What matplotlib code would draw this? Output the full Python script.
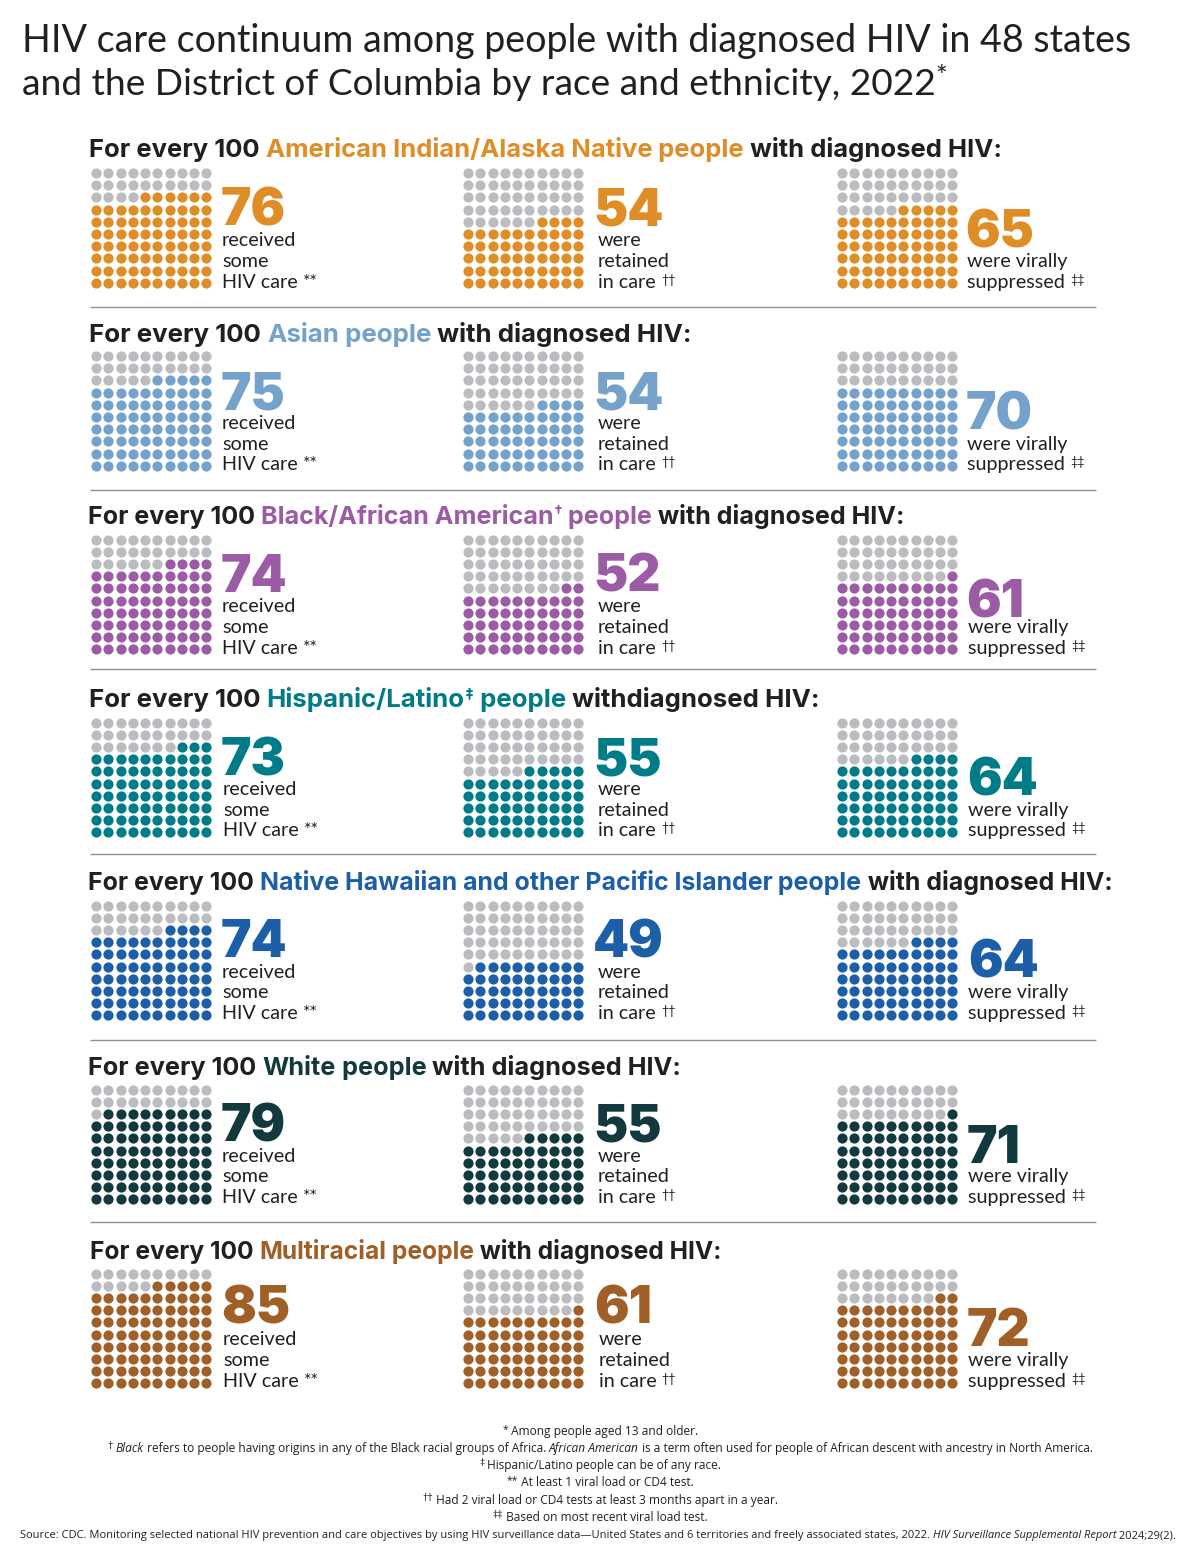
import matplotlib
matplotlib.use("Agg")
import matplotlib.pyplot as plt
import numpy as np

FONT = "Lato"
plt.rcParams["font.family"] = [FONT, "DejaVu Sans"]
HEAD = ["Inter", "DejaVu Sans"]

TEXT = "#231F20"
GRAY = "#BBBCC0"
LINE = "#8F8F8F"

groups = ["American Indian/Alaska Native", "Asian", "Black/African American",
          "Hispanic/Latino", "Native Hawaiian and other Pacific Islander", "White", "Multiracial"]
colors = ["#DF8D27", "#74A2CB", "#9B5BA5", "#007C89", "#1C5FA8", "#12393D", "#A05F26"]
care = [76, 75, 74, 73, 74, 79, 85]
retained = [54, 54, 52, 55, 49, 55, 61]
suppressed = [65, 70, 61, 64, 64, 71, 72]

heading_y = [157, 342, 524, 707, 890, 1075, 1259]
heading_x = [89, 89, 88, 89, 88, 88, 90]
heading_size = [18.45, 18.65, 18.05, 18.58, 17.93, 18.2, 17.7]
grid_y = [173, 356, 539.5, 722.5, 905.5, 1089.5, 1273.5]
col_x = [96, 468, 842]
num_x = [[221, 593, 965], [221, 593, 966], [221, 593, 966], [221, 593, 967],
         [221, 593, 968], [221, 593, 967], [221, 594, 967]]
label_x = [[222, 598, 967], [222, 598, 967], [222, 598, 968], [223, 598, 968],
           [222, 598, 968], [222, 598, 968], [223, 599, 968]]
num_base = [[226, 226, 248], [410, 410, 430], [592, 592, 618], [775, 775, 796],
            [957, 957, 977], [1141, 1141, 1163], [1324, 1324, 1346]]
line_base = [[246, 267, 288], [429, 450, 470], [612, 633, 654], [795, 816, 836],
             [978, 998, 1019], [1162, 1182, 1203], [1345, 1366, 1387]]
divider_y = [307, 490, 669, 854, 1040, 1222]

fig = plt.figure(figsize=(12, 15.62), dpi=100)
ax = fig.add_axes([0, 0, 1, 1])
ax.set_xlim(0, 1200)
ax.set_ylim(1562, 0)
ax.axis("off")
rend = fig.canvas.get_renderer()


def width(s, **kw):
    a = ax.text(0, 0, "|" + s + "|", **kw)
    b = ax.text(0, 0, "||", **kw)
    w = a.get_window_extent(rend).width - b.get_window_extent(rend).width
    a.remove()
    b.remove()
    return w


def runs(x, y, parts, center=False, **base):
    total = 0
    items = []
    for p in parts:
        s = p[0]
        kw = dict(base)
        kw.update(p[1] if len(p) > 1 else {})
        rise = kw.pop("rise", 0)
        w = width(s, **kw)
        items.append((s, kw, rise, w))
        total += w
    cx = x - total / 2 if center else x
    for s, kw, rise, w in items:
        ax.text(cx, y - rise, s, va="baseline", ha="left", **kw)
        cx += w


# Title
title_kw = dict(color=TEXT, fontweight="normal")
ax.text(22, 52, "HIV care continuum among people with diagnosed HIV in 48 states",
        va="baseline", fontsize=27.05, **title_kw)
runs(22, 95, [("and the District of Columbia by race and ethnicity, 2022",),
              ("*", dict(fontsize=20, rise=9))], fontsize=26.75, **title_kw)

for y in divider_y:
    ax.plot([90, 1096], [y, y], color=LINE, lw=1.0, solid_capstyle="butt")

sup = dict(fontsize=11, rise=7)
rows = np.arange(10)
for i, g in enumerate(groups):
    c = colors[i]
    hk = dict(fontsize=heading_size[i], fontweight="bold", color=TEXT, family=HEAD)
    colored = dict(color=c)
    parts = [("For every 100 ",), (g, colored)]
    if g.startswith("Black"):
        parts += [("†", dict(color=c, **sup)), (" people", colored), (" with diagnosed HIV:",)]
    elif g.startswith("Hispanic"):
        parts += [("‡", dict(color=c, **sup)), (" people", colored), (" withdiagnosed HIV:",)]
    else:
        parts += [(" people", colored), (" with diagnosed HIV:",)]
    runs(heading_x[i], heading_y[i], parts, **hk)

    for j, val in enumerate([care[i], retained[i], suppressed[i]]):
        xs, ys = np.meshgrid(col_x[j] + rows * 12.27, grid_y[i] + rows * 12.2)
        xs = xs.ravel()
        ys = ys.ravel()
        # fill from the bottom-right corner, row by row
        order = np.arange(100)[::-1]
        filled = np.zeros(100, bool)
        filled[order[:val]] = True
        ax.scatter(xs[~filled], ys[~filled], s=54, color=GRAY, linewidths=0)
        ax.scatter(xs[filled], ys[filled], s=54, color=c, linewidths=0)

        ax.text(num_x[i][j], num_base[i][j], str(val), fontsize=37, fontweight="black",
                color=c, va="baseline", family=HEAD)
        lk = dict(fontsize=14.2, color=TEXT)
        b = line_base[i]
        lx = label_x[i][j]
        small = dict(fontsize=13, rise=1)
        if j == 0:
            ax.text(lx, b[0], "received", va="baseline", **lk)
            ax.text(lx, b[1], "some", va="baseline", **lk)
            runs(lx, b[2], [("HIV care ",), ("**", small)], **lk)
        elif j == 1:
            ax.text(lx, b[0], "were", va="baseline", **lk)
            ax.text(lx, b[1], "retained", va="baseline", **lk)
            runs(lx, b[2], [("in care ",), ("††", dict(fontsize=9, rise=4))], **lk)
        else:
            ax.text(lx, b[1], "were virally", va="baseline", **lk)
            runs(lx, b[2], [("suppressed ",), ("‡‡", dict(fontsize=9, rise=4))], **lk)

# Footnotes
fk = dict(fontsize=8.6, color=TEXT, family=["Open Sans", "DejaVu Sans"])
fs = dict(fontsize=7.5, rise=3)
it = dict(style="italic")
runs(600, 1435, [("*", fs), (" Among people aged 13 and older.",)], center=True, **fk)
runs(600, 1452, [("†", fs), (" ",), ("Black", it), (" refers to people having origins in any of the Black racial groups of Africa. ",),
                 ("African American", it),
                 (" is a term often used for people of African descent with ancestry in North America.",)],
     center=True, **fk)
runs(600, 1469, [("‡", fs), (" Hispanic/Latino people can be of any race.",)], center=True, **fk)
runs(600, 1486, [("**", fs), (" At least 1 viral load or CD4 test.",)], center=True, **fk)
runs(600, 1504, [("††", fs), (" Had 2 viral load or CD4 tests at least 3 months apart in a year.",)], center=True, **fk)
runs(600, 1521, [("‡‡", fs), (" Based on most recent viral load test.",)], center=True, **fk)
fk2 = dict(fk, fontsize=8.06)
runs(20, 1538, [("Source: CDC. Monitoring selected national HIV prevention and care objectives by using HIV surveillance data—United States and 6 territories and freely associated states, 2022. ",),
                ("HIV Surveillance Supplemental Report", it), (" 2024;29(2).",)], **fk2)

fig.savefig("out.png", dpi=100)
